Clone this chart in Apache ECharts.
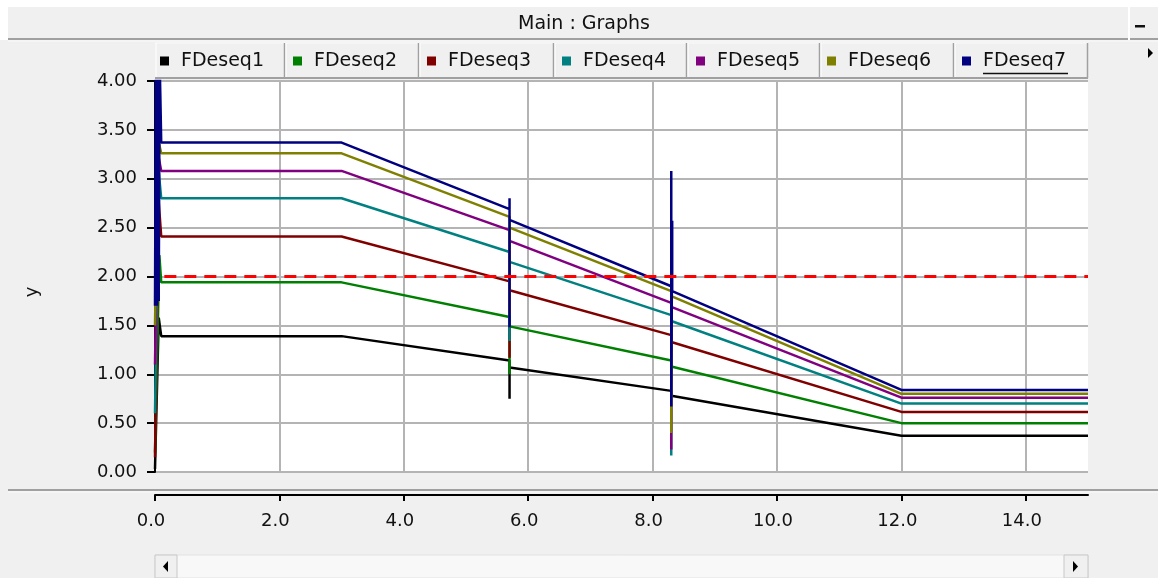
<!DOCTYPE html>
<html>
<head>
<meta charset="utf-8">
<script src="https://cdn.jsdelivr.net/npm/echarts@6/dist/echarts.min.js"></script>
<style>
html,body{margin:0;padding:0;background:#f0f0f0;}
#c{width:1158px;height:578px;}
</style>
</head>
<body>
<div id="c"></div>
<script>
// ---- data ----
const seriesNames = ['FDeseq1','FDeseq2','FDeseq3','FDeseq4','FDeseq5','FDeseq6','FDeseq7'];
const seriesColors = ['#000000','#008000','#800000','#008080','#800080','#808000','#000080'];
const fdeseq1 = [[0,0.03],[0.06,1.58],[0.1,1.39],[3.0,1.39],[5.7,1.14],[5.7,0.75],[5.7,1.07],[8.3,0.83],[8.3,0.78],[12,0.37],[15,0.37]];
const fdeseq2 = [[0,0.2],[0.07,2.22],[0.1,1.94],[3.0,1.94],[5.7,1.585],[5.7,1.0],[5.7,1.49],[8.3,1.14],[8.3,1.08],[12,0.50],[15,0.50]];
const fdeseq3 = [[0,0.15],[0.06,2.76],[0.1,2.41],[3.0,2.41],[5.7,1.95],[5.7,1.17],[5.7,1.86],[8.3,1.40],[8.3,1.33],[12,0.615],[15,0.615]];
const fdeseq4 = [[0,0.6],[0.06,3.07],[0.1,2.80],[3.0,2.80],[5.7,2.25],[5.7,1.34],[5.7,2.15],[8.3,1.605],[8.3,0.17],[8.3,1.545],[12,0.70],[15,0.70]];
const fdeseq5 = [[0,1.1],[0.05,3.25],[0.1,3.08],[3.0,3.08],[5.7,2.475],[5.7,1.6],[5.7,2.365],[8.3,1.73],[8.3,0.23],[8.3,1.69],[12,0.76],[15,0.76]];
const fdeseq6 = [[0,1.5],[0.05,3.40],[0.1,3.26],[3.0,3.26],[5.7,2.61],[5.7,1.6],[5.7,2.50],[8.3,1.85],[8.3,0.40],[8.3,1.80],[12,0.80],[15,0.80]];
const fdeseq7 = [[0,1.7],[0.015,4.2],[0.03,1.7],[0.045,4.2],[0.06,1.75],[0.075,4.2],[0.085,3.88],[0.1,3.37],[3.0,3.37],[5.7,2.69],[5.7,2.80],[5.7,1.48],[5.7,2.58],[8.3,1.90],[8.3,3.08],[8.3,0.67],[8.315,0.67],[8.315,2.57],[8.315,1.85],[12,0.84],[15,0.84]];
const limitLine = [[0.15,2.0],[15,2.0]];
const xTicks = [0,2,4,6,8,10,12,14];
const yTicks = [0,0.5,1,1.5,2,2.5,3,3.5,4];
const allData = [fdeseq1,fdeseq2,fdeseq3,fdeseq4,fdeseq5,fdeseq6,fdeseq7];

// ---- layout ----
const FONT = 'DejaVu Sans';
const tabX = [155,285,419,554,687,820,954,1088];
const legendTextStart = [181,314,448,583,717,848,983];

const chart = echarts.init(document.getElementById('c'), null, {renderer:'canvas'});

const series = seriesNames.map((n,i)=>({
  name:n, type:'line', data:allData[i], symbol:'none', showSymbol:false,
  color:seriesColors[i],
  lineStyle:{color:seriesColors[i], width:2.5},
  itemStyle:{color:seriesColors[i]},
  clip:true, animation:false, z:2+i*0.01
}));
series.push({
  name:'limit', type:'line', data:limitLine, symbol:'none',
  lineStyle:{color:'#ff0000', width:3, type:[12,8]},
  clip:true, animation:false, z:3, silent:true
});

const legends = seriesNames.map((n,i)=>({
  data:[n], left:legendTextStart[i]-21, top:51, padding:0,
  icon:'rect', itemWidth:9, itemHeight:9, selectedMode:false,
  textStyle:{fontFamily:FONT, fontSize:19, color:'#111', padding:[0,0,0,7], lineHeight:20}
}));

const g = [];
// white strips top-left
g.push({type:'rect', shape:{x:0,y:0,width:1158,height:7}, style:{fill:'#ffffff'}, silent:true});
g.push({type:'rect', shape:{x:0,y:0,width:8,height:40}, style:{fill:'#ffffff'}, silent:true});
// title separator
g.push({type:'line', shape:{x1:8,y1:39,x2:1130,y2:39}, style:{stroke:'#a0a0a0', lineWidth:2}, silent:true});
g.push({type:'line', shape:{x1:8,y1:41,x2:1158,y2:41}, style:{stroke:'#fafafa', lineWidth:1}, silent:true});
// minimise button
g.push({type:'line', shape:{x1:1129,y1:7,x2:1129,y2:40}, style:{stroke:'#ffffff', lineWidth:2}, silent:true});
g.push({type:'line', shape:{x1:1130,y1:39,x2:1158,y2:39}, style:{stroke:'#a0a0a0', lineWidth:2}, silent:true});
g.push({type:'rect', shape:{x:1135,y:25,width:10,height:2.5}, style:{fill:'#111'}, silent:true});
// small right arrow
g.push({type:'polygon', shape:{points:[[1148,48],[1153,53],[1148,58]]}, style:{fill:'#000'}, silent:true});
// title
g.push({type:'text', x:584, y:24, style:{text:'Main : Graphs', font:'19px "DejaVu Sans"', fill:'#111', align:'center', verticalAlign:'middle'}, silent:true});
// legend tabs
g.push({type:'line', shape:{x1:155,y1:43,x2:1088,y2:43}, style:{stroke:'#fafafa', lineWidth:1}, silent:true});
tabX.forEach((x,i)=>{
  if(i>0) g.push({type:'line', shape:{x1:x-0.5,y1:43,x2:x-0.5,y2:78}, style:{stroke:'#a0a0a0', lineWidth:1.5}, silent:true});
  if(i<tabX.length-1) g.push({type:'line', shape:{x1:x+1,y1:43,x2:x+1,y2:77}, style:{stroke:'#ffffff', lineWidth:1}, silent:true});
});
g.push({type:'line', shape:{x1:155,y1:78,x2:1088,y2:78}, style:{stroke:'#a0a0a0', lineWidth:2}, silent:true});
// underline of focused tab
g.push({type:'line', shape:{x1:983,y1:73.5,x2:1068,y2:73.5}, style:{stroke:'#111', lineWidth:1.5}, silent:true});
// separator above x axis
g.push({type:'line', shape:{x1:8,y1:490,x2:1158,y2:490}, style:{stroke:'#a0a0a0', lineWidth:2}, silent:true});
g.push({type:'line', shape:{x1:8,y1:492,x2:1158,y2:492}, style:{stroke:'#fafafa', lineWidth:1}, silent:true});
// y axis title
g.push({type:'text', x:32, y:292, rotation:Math.PI/2, style:{text:'y', font:'18px "DejaVu Sans"', fill:'#111', align:'center', verticalAlign:'middle'}, silent:true});
// scrollbar
g.push({type:'rect', shape:{x:155,y:555,width:933,height:23}, style:{fill:'#f8f8f8', stroke:'#e2e2e2', lineWidth:1}, silent:true});
g.push({type:'rect', shape:{x:155,y:555,width:22,height:23}, style:{fill:'#f0f0f0', stroke:'#c8c8c8', lineWidth:1}, silent:true});
g.push({type:'rect', shape:{x:1064,y:555,width:24,height:23}, style:{fill:'#f0f0f0', stroke:'#c8c8c8', lineWidth:1}, silent:true});
g.push({type:'polygon', shape:{points:[[168,561],[163,566.5],[168,572]]}, style:{fill:'#000'}, silent:true});
g.push({type:'polygon', shape:{points:[[1073,561],[1078,566.5],[1073,572]]}, style:{fill:'#000'}, silent:true});

chart.setOption({
  backgroundColor:'#f0f0f0',
  animation:false,
  grid:{left:155, right:70, top:81, bottom:106, show:true, backgroundColor:'#ffffff', borderWidth:0, containLabel:false, outerBoundsMode:'none'},
  legend:legends,
  xAxis:{
    type:'value', min:0, max:15, interval:2, position:'bottom', offset:23,
    axisLine:{show:true, onZero:false, lineStyle:{color:'#000', width:2}},
    axisTick:{show:true, length:6, customValues:xTicks, lineStyle:{color:'#000', width:2}},
    axisLabel:{customValues:xTicks, formatter:v=>Number(v).toFixed(1), fontFamily:FONT, fontSize:18, color:'#111', margin:17, padding:[0,8,0,0]},
    splitLine:{show:true, lineStyle:{color:'#b4b4b4', width:2}}
  },
  yAxis:{
    type:'value', min:0, max:4, interval:0.5,
    axisLine:{show:true, onZero:false, lineStyle:{color:'#000', width:2}},
    axisTick:{show:true, length:8, customValues:yTicks, lineStyle:{color:'#000', width:2}},
    axisLabel:{customValues:yTicks, formatter:v=>Number(v).toFixed(2), fontFamily:FONT, fontSize:18, color:'#111', margin:18},
    splitLine:{show:true, lineStyle:{color:'#b4b4b4', width:2}}
  },
  graphic:g,
  series:series
});
</script>
</body>
</html>
